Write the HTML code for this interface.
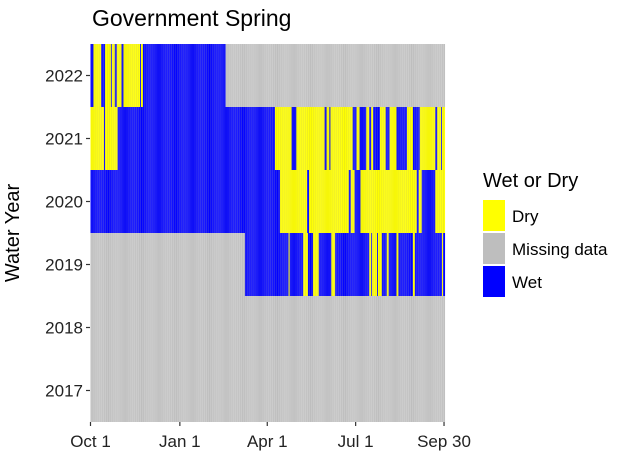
<!DOCTYPE html>
<html><head><meta charset="utf-8"><style>
body{margin:0;background:#fff;font-family:"Liberation Sans","DejaVu Sans",sans-serif}
svg text{font-family:"Liberation Sans","DejaVu Sans",sans-serif}
</style></head><body>
<svg id="chart" width="640" height="460" viewBox="0 0 640 460">
<text x="92" y="26" font-size="23" fill="#000">Government Spring</text>
<g id="cells"></g>
<g id="axes"></g>
<text transform="translate(19,233) rotate(-90)" text-anchor="middle" font-size="20" fill="#000">Water Year</text>
<g>
<text x="483" y="187" font-size="20" fill="#000">Wet or Dry</text>
<rect x="483" y="200" width="22" height="31" fill="#ffff00"/>
<rect x="483" y="233" width="22" height="31" fill="#bebebe"/>
<rect x="483" y="266" width="22" height="31" fill="#0000ff"/>
<text x="512" y="222" font-size="17" fill="#000">Dry</text>
<text x="512" y="255" font-size="17" fill="#000">Missing data</text>
<text x="512" y="288" font-size="17" fill="#000">Wet</text>
</g>
</svg>
<script>
// years (top to bottom) and status change points [day, status]
const years = ["2022","2021","2020","2019","2018","2017"];
const seg2022 = [[0,"W"],[3,"D"],[11,"W"],[15,"D"],[21,"W"],[22,"D"],[25,"W"],[27,"D"],[32,"W"],[34,"D"],[51,"W"],[52,"D"],[54,"W"],[139,"M"]];
const seg2021 = [[0,"D"],[14,"W"],[15,"D"],[28,"W"],[190,"D"],[207,"W"],[212,"D"],[241,"W"],[243,"D"],[246,"W"],[247,"D"],[270,"W"],[274,"D"],[277,"W"],[284,"D"],[287,"W"],[289,"D"],[291,"W"],[298,"D"],[304,"W"],[308,"D"],[315,"W"],[326,"D"],[332,"W"],[339,"D"],[355,"W"],[357,"D"],[361,"W"],[362,"D"]];
const seg2020 = [[0,"W"],[195,"D"],[223,"W"],[225,"D"],[266,"W"],[268,"D"],[272,"W"],[278,"D"],[336,"W"],[338,"D"],[341,"W"],[355,"D"]];
const seg2019 = [[0,"M"],[159,"W"],[204,"D"],[205,"W"],[219,"D"],[224,"W"],[229,"D"],[235,"W"],[248,"D"],[252,"W"],[287,"D"],[289,"W"],[290,"D"],[295,"W"],[296,"D"],[300,"W"],[305,"D"],[307,"W"],[315,"D"],[317,"W"],[332,"D"],[334,"W"],[362,"D"],[363,"W"]];
const seg2018 = [[0,"M"]];
const seg2017 = [[0,"M"]];
const segments = [seg2022,seg2021,seg2020,seg2019,seg2018,seg2017];
const tickLabels = ["Oct 1","Jan 1","Apr 1","Jul 1","Sep 30"];
const tickDays = [0,92,182,273,364];

const NS="http://www.w3.org/2000/svg";
const X0=90.5, X1=445, Y0=44, RH=63, ND=365;
const xs=d=>X0+d*(X1-X0)/ND;
const ys=i=>Y0+i*RH;
const colors={W:"#0000ff",D:"#ffff00",M:"#bebebe"};
const stroke={W:"#2020ee",D:"#eeee10",M:"#c8c8c8"};
const cells=document.getElementById("cells");
segments.forEach((seg,yi)=>{
  for(let d=0; d<ND; d++){
    let st=seg[0][1];
    for(const s of seg){ if(s[0]<=d) st=s[1]; }
    const r=document.createElementNS(NS,"rect");
    r.setAttribute("x",xs(d));r.setAttribute("y",ys(yi));
    r.setAttribute("width",xs(d+1)-xs(d)+0.05);r.setAttribute("height",RH);
    r.setAttribute("fill",colors[st]);
    if(d%2===1) r.setAttribute("fill",stroke[st]);
    
    
    cells.appendChild(r);
  }
});
const axes=document.getElementById("axes");
function line(x1,y1,x2,y2,name){
  const l=document.createElementNS(NS,"line");
  l.setAttribute("x1",x1);l.setAttribute("y1",y1);l.setAttribute("x2",x2);l.setAttribute("y2",y2);
  l.setAttribute("stroke","#333");l.setAttribute("stroke-width","1.2");
  
  
  axes.appendChild(l);
}
function text(x,y,t,anchor,name){
  const e=document.createElementNS(NS,"text");
  e.setAttribute("x",x);e.setAttribute("y",y);e.setAttribute("text-anchor",anchor);
  e.setAttribute("font-size","17");e.setAttribute("fill","#222");e.textContent=t;
  
  
  axes.appendChild(e);
}
years.forEach((y,i)=>{
  const cy=ys(i)+RH/2;
  line(86,cy,90,cy,"y-tick");
  text(83,cy+6,y,"end","y-tick-label");
});
tickDays.forEach((d,i)=>{
  const x=xs(d);
  line(x,422,x,426,"x-tick");
  text(x,447,tickLabels[i],"middle","x-tick-label");
});
</script>
</body></html>
